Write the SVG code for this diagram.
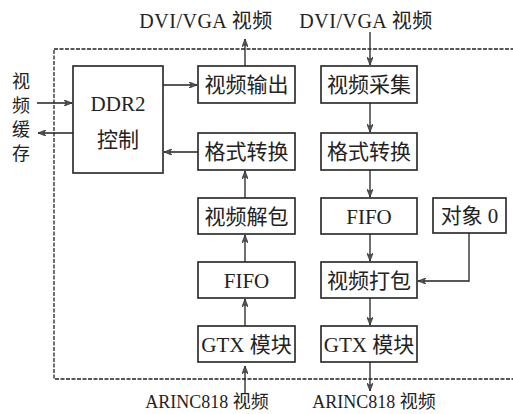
<svg xmlns="http://www.w3.org/2000/svg" width="513" height="414" viewBox="0 0 513 414">
<style>
text{font-family:"Liberation Serif","Noto Sans CJK SC",serif;fill:#222;text-anchor:middle}
.t{font-size:21px}
.l{font-size:18px}
.top{font-size:20px;letter-spacing:0.5px}
.box{fill:#fff;stroke:#222;stroke-width:1.6}
.c{stroke:#222;stroke-width:1.3;fill:none}
.frame{fill:none;stroke:#222;stroke-width:1.3;stroke-dasharray:4 1.5}
</style>
<defs>
<marker id="a" viewBox="0 0 10 8" refX="10" refY="4" markerWidth="8" markerHeight="6.4" markerUnits="userSpaceOnUse" orient="auto">
<path d="M0,0 L10,4 L0,8 L3,4 Z" fill="#555" stroke="#222" stroke-width="0.8"/>
</marker>
</defs>
<rect class="frame" x="54" y="49" width="470" height="330"/>
<g id="connectors">
<line class="c" x1="37" y1="103" x2="72" y2="103" marker-end="url(#a)"/>
<line class="c" x1="73" y1="133" x2="38" y2="133" marker-end="url(#a)"/>
<line class="c" x1="163" y1="85" x2="197" y2="85" marker-end="url(#a)"/>
<line class="c" x1="198" y1="152" x2="164" y2="152" marker-end="url(#a)"/>
<line class="c" x1="245" y1="66" x2="245" y2="39" marker-end="url(#a)"/>
<line class="c" x1="245" y1="198" x2="245" y2="171" marker-end="url(#a)"/>
<line class="c" x1="245" y1="262" x2="245" y2="235" marker-end="url(#a)"/>
<line class="c" x1="245" y1="326" x2="245" y2="299" marker-end="url(#a)"/>
<line class="c" x1="245" y1="394" x2="245" y2="366" marker-end="url(#a)"/>
<line class="c" x1="370" y1="32" x2="370" y2="65" marker-end="url(#a)"/>
<line class="c" x1="370" y1="103" x2="370" y2="132" marker-end="url(#a)"/>
<line class="c" x1="370" y1="170" x2="370" y2="197" marker-end="url(#a)"/>
<line class="c" x1="370" y1="234" x2="370" y2="261" marker-end="url(#a)"/>
<line class="c" x1="370" y1="298" x2="370" y2="325" marker-end="url(#a)"/>
<line class="c" x1="370" y1="362" x2="370" y2="391" marker-end="url(#a)"/>
<polyline class="c" points="469,233 469,281 418,281" marker-end="url(#a)"/>
</g>
<g id="label-cache">
<text class="l" x="21" y="88">视</text>
<text class="l" x="21" y="112">频</text>
<text class="l" x="21" y="136">缓</text>
<text class="l" x="21" y="160">存</text>
</g>
<g id="label-top">
<text class="top" x="206" y="28">DVI/VGA 视频</text>
<text class="top" x="366" y="28">DVI/VGA 视频</text>
</g>
<g id="label-bottom">
<text class="l" x="207" y="408">ARINC818 视频</text>
<text class="l" x="374" y="408">ARINC818 视频</text>
</g>
<g id="ddr2">
<rect class="box" x="73" y="66" width="90" height="107"/>
<text class="t" x="118" y="111">DDR2</text>
<text class="t" x="118" y="147">控制</text>
</g>
<g id="video-out">
<rect class="box" x="198" y="66" width="97" height="37"/>
<text class="t" x="246.5" y="92">视频输出</text>
</g>
<g id="format-left">
<rect class="box" x="198" y="133" width="97" height="37"/>
<text class="t" x="246.5" y="159">格式转换</text>
</g>
<g id="unpack">
<rect class="box" x="198" y="198" width="97" height="36"/>
<text class="t" x="246.5" y="223.5">视频解包</text>
</g>
<g id="fifo-left">
<rect class="box" x="198" y="262" width="97" height="36"/>
<text class="t" x="246.5" y="287.5">FIFO</text>
</g>
<g id="gtx-left">
<rect class="box" x="198" y="326" width="97" height="36"/>
<text class="t" x="246.5" y="351.5">GTX 模块</text>
</g>
<g id="capture">
<rect class="box" x="321" y="66" width="96" height="37"/>
<text class="t" x="369" y="92">视频采集</text>
</g>
<g id="format-right">
<rect class="box" x="321" y="133" width="96" height="37"/>
<text class="t" x="369" y="159">格式转换</text>
</g>
<g id="fifo-right">
<rect class="box" x="321" y="198" width="96" height="36"/>
<text class="t" x="369" y="223.5">FIFO</text>
</g>
<g id="object0">
<rect class="box" x="433" y="198" width="73" height="35"/>
<text class="t" x="469.5" y="223">对象 0</text>
</g>
<g id="pack">
<rect class="box" x="321" y="262" width="96" height="36"/>
<text class="t" x="369" y="287.5">视频打包</text>
</g>
<g id="gtx-right">
<rect class="box" x="321" y="326" width="96" height="36"/>
<text class="t" x="369" y="351.5">GTX 模块</text>
</g>
</svg>
